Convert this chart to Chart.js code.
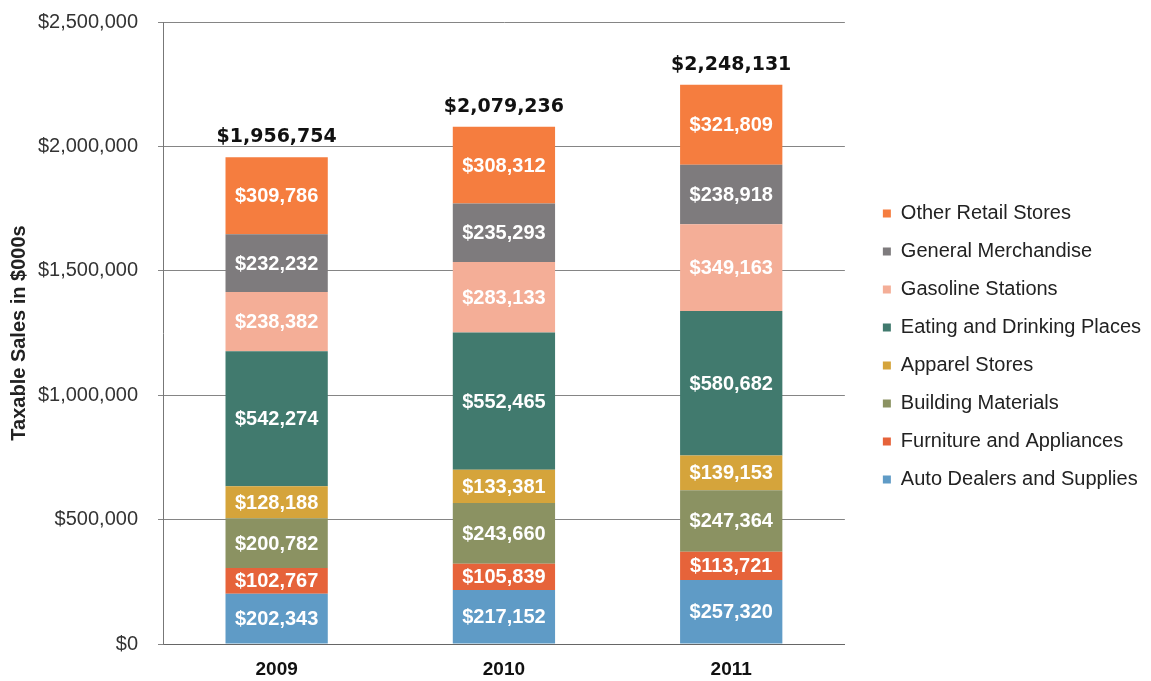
<!DOCTYPE html>
<html>
<head>
<meta charset="utf-8">
<script src="https://cdn.jsdelivr.net/npm/chart.js@4/dist/chart.umd.min.js"></script>
<style>
  html, body { margin: 0; padding: 0; background: #fff; }
  #wrap { width: 1151px; height: 681px; }
</style>
</head>
<body>
<div id="wrap"><canvas id="chart" width="1151" height="681"></canvas></div>
<script>
// ── Data ─────────────────────────────────────────
const years = ['2009', '2010', '2011'];

// bottom of the stack first
const autoDealers   = [202343, 217152, 257320];
const furniture     = [102767, 105839, 113721];
const building      = [200782, 243660, 247364];
const apparel       = [128188, 133381, 139153];
const eating        = [542274, 552465, 580682];
const gasoline      = [238382, 283133, 349163];
const generalMerch  = [232232, 235293, 238918];
const otherRetail   = [309786, 308312, 321809];

const totals = [1956754, 2079236, 2248131];

const yTicks = [0, 500000, 1000000, 1500000, 2000000, 2500000];

const FONT = '"Liberation Sans", Arial, sans-serif';

const money = v => '$' + Math.round(v).toLocaleString('en-US');

// segment values + totals on top
const barLabels = {
  id: 'barLabels',
  afterDatasetsDraw(chart) {
    const ctx = chart.ctx;
    ctx.save();
    ctx.textAlign = 'center';
    ctx.textBaseline = 'middle';
    ctx.font = 'bold 20px ' + FONT;
    ctx.fillStyle = '#ffffff';
    chart.data.datasets.forEach((ds, i) => {
      chart.getDatasetMeta(i).data.forEach((bar, j) => {
        ctx.fillText(money(ds.data[j]), bar.x, (bar.y + bar.base) / 2 + 1);
      });
    });

    const last = chart.getDatasetMeta(chart.data.datasets.length - 1).data;
    ctx.fillStyle = '#111111';
    ctx.font = 'bold 19px "DejaVu Sans", sans-serif';
    ctx.textBaseline = 'alphabetic';
    last.forEach((bar, j) => ctx.fillText(money(totals[j]), bar.x, bar.y - 15));
    ctx.restore();
  }
};

const series = [
  { label: 'Auto Dealers and Supplies', data: autoDealers,  color: '#5f9bc6' },
  { label: 'Furniture and Appliances',  data: furniture,    color: '#e6633a' },
  { label: 'Building Materials',        data: building,     color: '#8b9262' },
  { label: 'Apparel Stores',            data: apparel,      color: '#d5a43b' },
  { label: 'Eating and Drinking Places',data: eating,       color: '#417a6e' },
  { label: 'Gasoline Stations',         data: gasoline,     color: '#f4ae97' },
  { label: 'General Merchandise',       data: generalMerch, color: '#7e7b7d' },
  { label: 'Other Retail Stores',       data: otherRetail,  color: '#f57d3f' },
];

new Chart(document.getElementById('chart'), {
  type: 'bar',
  data: {
    labels: years,
    datasets: series.map(s => ({
      label: s.label,
      data: s.data,
      backgroundColor: s.color,
      borderWidth: 0,
      barPercentage: 0.45,
      categoryPercentage: 1.0,
    }))
  },
  options: {
    responsive: false,
    animation: false,
    devicePixelRatio: 1,
    layout: { padding: { top: 12, right: 0, bottom: 0, left: 0 } },
    plugins: {
      legend: {
        position: 'right',
        reverse: true,
        maxWidth: 320,
        labels: {
          color: '#222',
          font: { family: FONT, size: 20 },
          boxWidth: 8,
          boxHeight: 8,
          padding: 18,
        }
      },
      tooltip: { enabled: false }
    },
    scales: {
      x: {
        stacked: true,
        grid: { display: false, drawTicks: false },
        border: { display: true, color: '#666' },
        ticks: {
          color: '#111',
          padding: 14,
          font: { family: FONT, size: 19, weight: 'bold' }
        },
        afterFit: s => { s.height = 37; }
      },
      y: {
        stacked: true,
        min: 0,
        max: 2500000,
        afterBuildTicks: axis => { axis.ticks = yTicks.map(v => ({ value: v })); },
        grid: { color: '#858585', lineWidth: 1, tickLength: 5 },
        border: { display: true, color: '#777' },
        ticks: {
          color: '#333',
          padding: 20,
          font: { family: FONT, size: 20 },
          callback: v => money(v)
        },
        title: {
          display: true,
          text: 'Taxable Sales in $000s',
          color: '#222',
          padding: { top: 7, bottom: 7 },
          font: { family: FONT, size: 20, weight: 'bold' }
        },
        afterFit: s => {
          s.width = 163;
          s.paddingTop = 22; // plot top at the $2,500,000 line
        }
      },
      // spacer between plot and legend
      gap: {
        type: 'linear',
        position: 'right',
        display: true,
        grid: { display: false, drawTicks: false },
        border: { display: false },
        ticks: { display: false },
        afterFit: s => { s.width = 20; }
      }
    }
  },
  plugins: [barLabels]
});
</script>
</body>
</html>
